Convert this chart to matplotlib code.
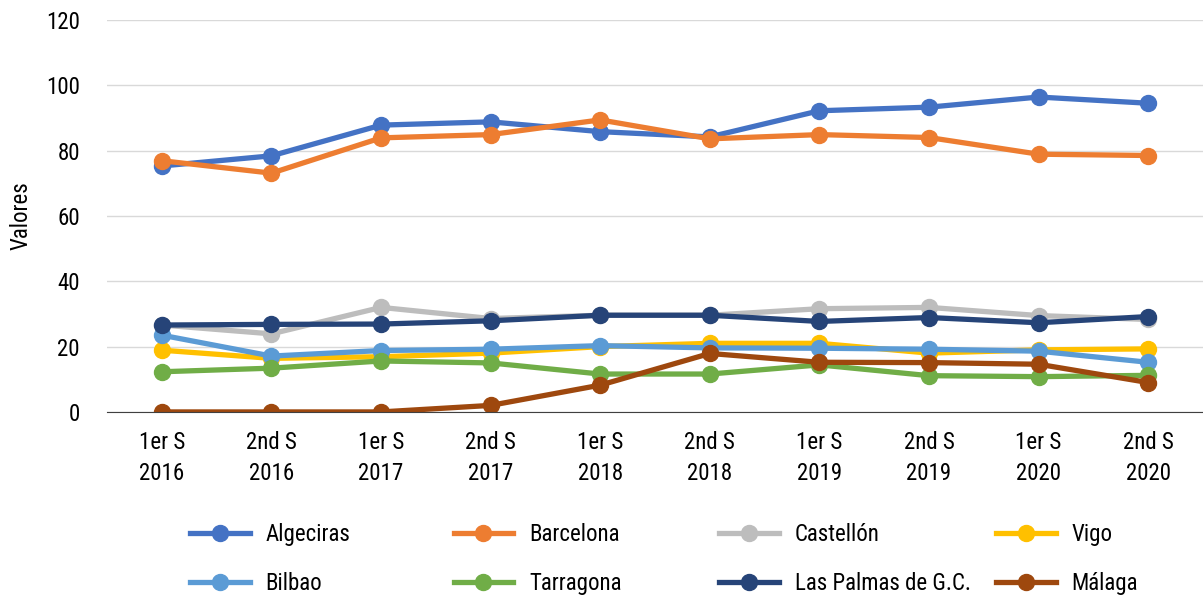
import numpy as np
import matplotlib.pyplot as plt

plt.rcParams['font.family'] = ['Roboto Condensed', 'Liberation Sans Narrow', 'Liberation Sans', 'DejaVu Sans']

periodos = ['1er S\n2016', '2nd S\n2016', '1er S\n2017', '2nd S\n2017', '1er S\n2018',
            '2nd S\n2018', '1er S\n2019', '2nd S\n2019', '1er S\n2020', '2nd S\n2020']

algeciras = [75.3, 78.4, 87.8, 88.8, 85.8, 84.2, 92.2, 93.3, 96.4, 94.5]
barcelona = [76.9, 73.1, 83.9, 84.9, 89.4, 83.6, 84.9, 84.0, 78.9, 78.5]
castellon = [26.6, 23.9, 32.0, 28.6, 29.6, 29.6, 31.6, 32.0, 29.5, 28.3]
vigo = [18.9, 16.4, 16.9, 18.0, 20.0, 21.0, 21.0, 18.0, 19.0, 19.3]
bilbao = [23.5, 17.1, 18.8, 19.2, 20.3, 19.6, 19.5, 19.2, 18.6, 15.2]
tarragona = [12.3, 13.4, 15.6, 15.0, 11.6, 11.6, 14.4, 11.1, 10.8, 11.2]
las_palmas = [26.6, 26.8, 26.9, 27.9, 29.6, 29.6, 27.7, 28.9, 27.3, 29.2]
malaga = [0.0, 0.0, 0.0, 2.0, 8.2, 17.9, 15.2, 15.1, 14.6, 9.0]

series = [
    ('Algeciras', algeciras, '#4472C4'),
    ('Barcelona', barcelona, '#ED7D31'),
    ('Castellón', castellon, '#BDBDBD'),
    ('Vigo', vigo, '#FFC000'),
    ('Bilbao', bilbao, '#5B9BD5'),
    ('Tarragona', tarragona, '#70AD47'),
    ('Las Palmas de G.C.', las_palmas, '#264478'),
    ('Málaga', malaga, '#9E480E'),
]

fs = 16.5

fig = plt.figure(figsize=(12.03, 5.97), dpi=100)
ax = fig.add_axes([0.089, 0.31, 0.911, 0.6566])

x = np.arange(len(periodos))
handles = []
for nombre, vals, color in series:
    h, = ax.plot(x, vals, color=color, lw=3.8, marker='o', ms=11.5, label=nombre)
    handles.append(h)

ax.set_xlim(-0.5, len(periodos) - 0.5)
ax.set_ylim(0, 120)
ax.set_yticks(range(0, 121, 20))
ax.set_xticks(x)
ax.set_xticklabels(periodos, fontsize=fs, linespacing=1.42)
ax.tick_params(axis='y', labelsize=fs, length=0, pad=19.5)
ax.tick_params(axis='x', length=0, pad=14)
ax.grid(axis='y', color='#d9d9d9', lw=1)
ax.set_axisbelow(True)
for s in ['top', 'right', 'left']:
    ax.spines[s].set_visible(False)
ax.spines['bottom'].set_color('#404040')
ax.set_ylabel('Valores', fontsize=fs)
ax.yaxis.set_label_coords(-0.068, 0.5)

# una leyenda por columna para que queden equiespaciadas
col_x = [0.158, 0.377, 0.598, 0.828]
for c in range(4):
    idx = [c, c + 4]
    fig.legend([handles[i] for i in idx], [series[i][0] for i in idx],
               loc='center left', bbox_to_anchor=(col_x[c], 0.064), frameon=False,
               fontsize=fs, handlelength=2.6, handletextpad=0.7,
               labelspacing=1.12, borderpad=0, borderaxespad=0)

fig.savefig('out.png', dpi=100)
